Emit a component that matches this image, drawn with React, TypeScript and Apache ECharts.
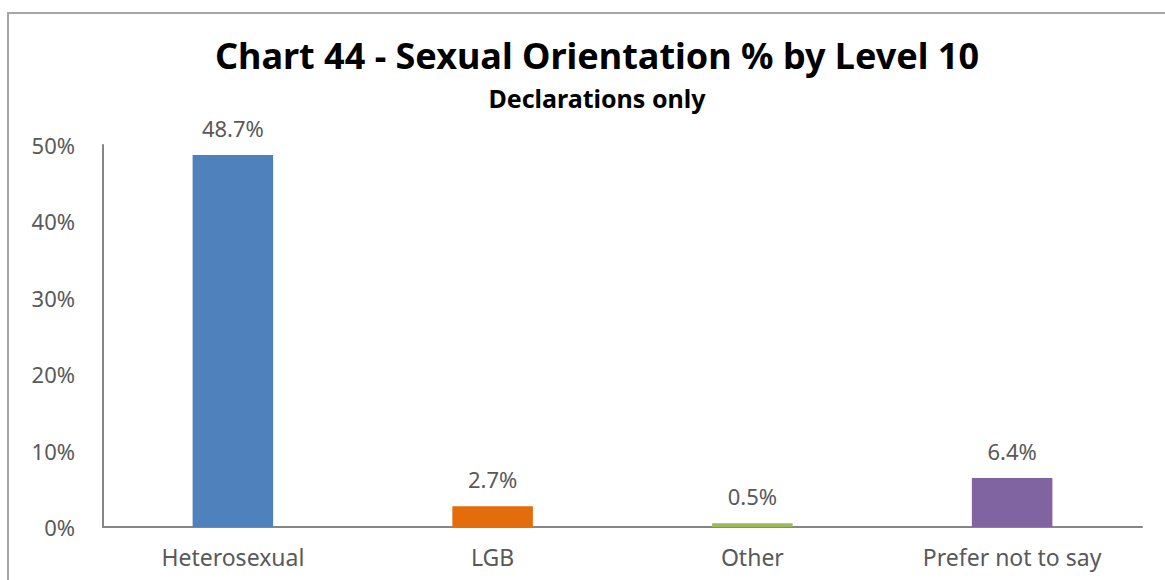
import React, { useEffect, useRef } from "react";
import * as echarts from "echarts";

const categories = ["Heterosexual", "LGB", "Other", "Prefer not to say"];
const values = [48.7, 2.7, 0.5, 6.4];
const barColors = ["#4F81BD", "#E46C0A", "#9BBB59", "#8064A2"];
const titleText = "Chart 44 - Sexual Orientation % by Level 10";
const subtitleText = "Declarations only";

export default function App() {
  const ref = useRef<HTMLDivElement>(null);
  useEffect(() => {
    if (!ref.current) return;
    const chart = echarts.init(ref.current, null, { renderer: "svg" });
    const font = "'Noto Sans', sans-serif";
    chart.setOption({
      animation: false,
      backgroundColor: "#ffffff",
      title: [
        {
          text: titleText,
          left: 592,
          top: 32,
          textAlign: "center",
          textStyle: { fontFamily: font, fontSize: 36, fontWeight: "bold", color: "#000000" },
        },
        {
          text: subtitleText,
          left: 592,
          top: 80,
          textAlign: "center",
          textStyle: { fontFamily: font, fontSize: 25, fontWeight: "bold", color: "#000000" },
        },
      ],
      graphic: [
        {
          type: "rect",
          shape: { x: 8, y: 13, width: 1180, height: 600 },
          style: { fill: "none", stroke: "#a6a6a6", lineWidth: 2 },
          silent: true,
        },
      ],
      grid: { left: 103, right: 23, top: 145, bottom: 53, containLabel: false },
      xAxis: {
        type: "category",
        data: categories,
        axisLine: { show: true, lineStyle: { color: "#868686", width: 2 } },
        axisTick: { show: false },
        axisLabel: { color: "#595959", fontFamily: font, fontSize: 23, margin: 18 },
      },
      yAxis: {
        type: "value",
        min: 0,
        max: 50,
        interval: 10,
        axisLine: { show: true, lineStyle: { color: "#868686", width: 2 } },
        axisTick: { show: false },
        splitLine: { show: false },
        axisLabel: {
          color: "#595959",
          fontFamily: font,
          fontSize: 22,
          margin: 28,
          formatter: "{value}%",
        },
      },
      series: [
        {
          type: "bar",
          barWidth: "31%",
          data: values.map((v, i) => ({ value: v, itemStyle: { color: barColors[i] } })),
          label: {
            show: true,
            position: "top",
            distance: 16,
            color: "#595959",
            fontFamily: font,
            fontSize: 22,
            formatter: (p: any) => p.value.toFixed(1) + "%",
          },
        },
      ],
    });
    return () => chart.dispose();
  }, []);
  return (
    <div
      ref={ref}
      style={{ position: "fixed", left: 0, top: 0, width: 1165, height: 580 }}
    />
  );
}
